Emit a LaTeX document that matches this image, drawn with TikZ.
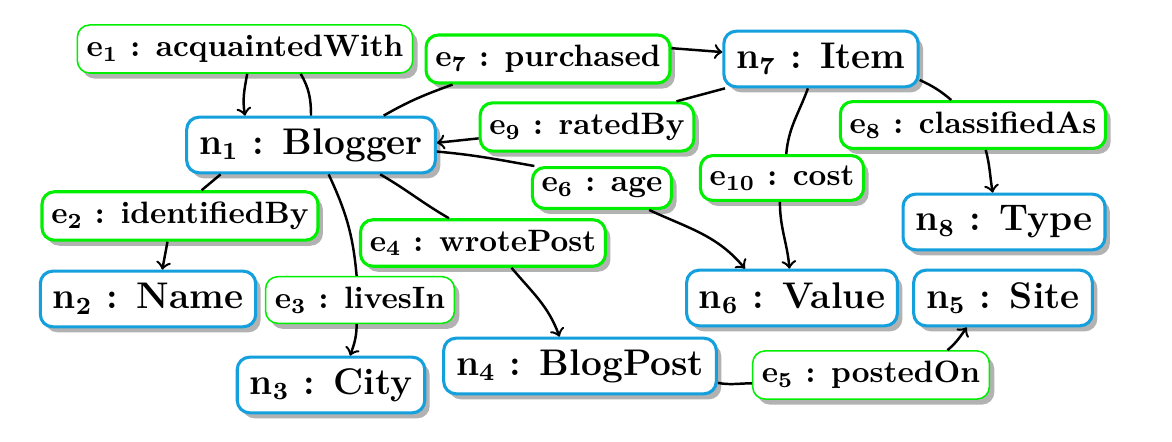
\documentclass[tikz,border=0pt]{standalone}
\usetikzlibrary{shadows}
\definecolor{nblue}{RGB}{20,160,220}
\definecolor{egreen}{RGB}{0,238,0}
\begin{document}
\begin{tikzpicture}[x=0.3236pt,y=-0.3236pt,
  box/.style={rounded corners=4pt, fill=white,
    drop shadow={shadow xshift=1.6pt,shadow yshift=-1.8pt,fill=black!30,opacity=1}},
  ent/.style={box, draw=nblue, line width=1pt, font=\large\bfseries\boldmath,
    inner xsep=4pt, minimum height=18pt},
  rel/.style={box, draw=egreen, line width=1pt, font=\bfseries\boldmath,
    inner xsep=3pt, minimum height=15pt},
  relthin/.style={rel, line width=0.5pt},
  conn/.style={line width=0.8pt},
  arr/.style={conn, ->}]
\useasboundingbox (0,0) rectangle (1172,442);

% entity nodes
\node[ent] (n1) at (311,145) {n$_1$ : Blogger};
\node[ent] (n7) at (821,59) {n$_7$ : Item};
\node[ent] (n8) at (1004,222) {n$_8$ : Type};
\node[ent] (n2) at (148,299) {n$_2$ : Name};
\node[ent] (n3) at (331,385) {n$_3$ : City};
\node[ent] (n6) at (792,298) {n$_6$ : Value};
\node[ent] (n5) at (1003,298) {n$_5$ : Site};
\node[ent] (n4) at (580,366) {n$_4$ : BlogPost};

% relation nodes
\node[relthin] (e1) at (245,49) {e$_1$ : acquaintedWith};
\node[rel] (e7) at (548,59) {e$_7$ : purchased};
\node[rel] (e9) at (587,127) {e$_9$ : ratedBy};
\node[rel, minimum height=13pt] (e6) at (602,188) {e$_6$ : age};
\node[rel] (e8) at (973,125) {e$_8$ : classifiedAs};
\node[rel, minimum height=14pt] (e10) at (782,178) {e$_{10}$ : cost};
\node[rel] (e2) at (180,216) {e$_2$ : identifiedBy};
\node[relthin] (e3) at (360,300) {e$_3$ : livesIn};
\node[rel] (e4) at (483,243) {e$_4$ : wrotePost};
\node[relthin] (e5) at (871,375) {e$_5$ : postedOn};

% connectors
\draw[conn] (n1.90) to[out=90,in=-60] (e1.-24);
\draw[arr] (e1.-85) to[out=-100,in=100] (n1.156);

\draw[conn] (n1.22) to[out=30,in=200] (e7.195);
\draw[arr] (e7.5) -- (n7.176);

\draw[conn] (n7.197) -- (e9.16);
\draw[arr] (e9.186) -- (n1.1);

\draw[conn] (n1.-3) to[out=-5,in=170] (e6.162);
\draw[arr] (e6.-25) to[out=-25,in=130] (n6.148);

\draw[conn] (n7.-12) to[out=-25,in=140] (e8.131);
\draw[arr] (e8.-63) to[out=-75,in=100] (n8.111);

\draw[conn] (n7.246) to[out=-110,in=85] (e10.80);
\draw[arr] (e10.-95) to[out=-90,in=95] (n6.95);

\draw[conn] (n1.198) -- (e2.50);
\draw[arr] (e2.-116) to[out=-100,in=80] (n2.64);

\draw[conn] (n1.-59) to[out=-65,in=95] (e3.98);
\draw[arr] (e3.-98) to[out=-90,in=70] (n3.57);

\draw[conn] (n1.-23) to[out=-30,in=150] (e4.144);
\draw[arr] (e4.-41) to[out=-50,in=110] (n4.125);

\draw[conn] (n4.-7) to[out=-10,in=180] (e5.184);
\draw[arr] (e5.18) to[out=40,in=-125] (n5.219);
\end{tikzpicture}
\end{document}
